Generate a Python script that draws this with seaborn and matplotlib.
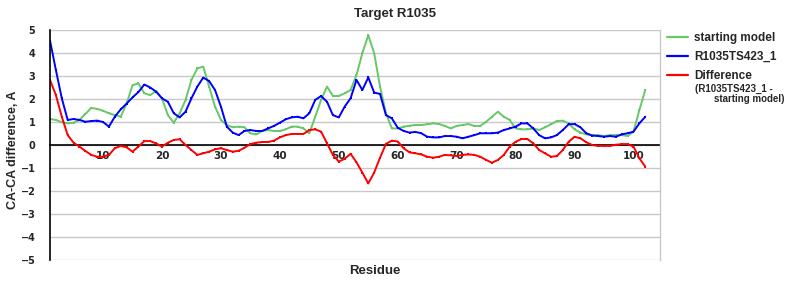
import numpy as np
import pandas as pd
import matplotlib
matplotlib.use("Agg")
import matplotlib.pyplot as plt
import seaborn as sns
from matplotlib.lines import Line2D

residues = list(range(1, 103))

starting_model = [
    1.13, 1.09, 0.99, 0.94, 0.97, 1.09, 1.35, 1.61, 1.57, 1.49,
    1.38, 1.30, 1.23, 1.80, 2.60, 2.68, 2.25, 2.17, 2.35, 2.03,
    1.30, 0.97, 1.38, 1.96, 2.83, 3.33, 3.41, 2.54, 1.67, 1.09,
    0.87, 0.77, 0.80, 0.77, 0.51, 0.46, 0.61, 0.65, 0.61, 0.61,
    0.68, 0.80, 0.80, 0.72, 0.51, 1.23, 1.96, 2.54, 2.13, 2.13,
    2.25, 2.39, 3.04, 3.99, 4.78, 3.99, 2.54, 1.38, 0.72, 0.72,
    0.80, 0.84, 0.87, 0.87, 0.90, 0.94, 0.91, 0.83, 0.72, 0.83,
    0.87, 0.91, 0.83, 0.83, 1.01, 1.23, 1.45, 1.23, 1.09, 0.72,
    0.68, 0.68, 0.72, 0.65, 0.77, 0.90, 1.04, 1.06, 0.94, 0.68,
    0.54, 0.46, 0.43, 0.43, 0.39, 0.43, 0.43, 0.43, 0.39, 0.58,
    1.52, 2.39,
]

model_ts423 = [
    4.54, 3.26, 2.03, 1.09, 1.13, 1.09, 1.01, 1.04, 1.06, 1.00,
    0.80, 1.23, 1.55, 1.80, 2.07, 2.30, 2.63, 2.50, 2.32, 2.03,
    1.88, 1.38, 1.20, 1.45, 2.03, 2.54, 2.93, 2.78, 2.39, 1.67,
    0.80, 0.54, 0.43, 0.61, 0.65, 0.61, 0.61, 0.72, 0.83, 0.97,
    1.12, 1.20, 1.23, 1.16, 1.38, 1.96, 2.13, 1.88, 1.30, 1.20,
    1.67, 2.03, 2.83, 2.39, 2.94, 2.28, 2.22, 1.30, 1.16, 0.75,
    0.61, 0.54, 0.57, 0.51, 0.36, 0.33, 0.33, 0.39, 0.39, 0.36,
    0.29, 0.36, 0.43, 0.51, 0.51, 0.51, 0.54, 0.65, 0.72, 0.80,
    0.94, 0.94, 0.72, 0.43, 0.29, 0.33, 0.43, 0.65, 0.90, 0.91,
    0.77, 0.51, 0.41, 0.39, 0.36, 0.39, 0.36, 0.46, 0.51, 0.58,
    0.94, 1.23,
]

difference = [
    2.83, 2.17, 1.23, 0.43, 0.10, -0.07, -0.26, -0.43, -0.51, -0.51,
    -0.43, -0.14, -0.04, -0.10, -0.29, -0.07, 0.17, 0.17, 0.07, -0.07,
    0.10, 0.22, 0.25, 0.00, -0.22, -0.43, -0.36, -0.29, -0.19, -0.14,
    -0.22, -0.29, -0.25, -0.12, 0.04, 0.10, 0.13, 0.13, 0.19, 0.33,
    0.43, 0.48, 0.48, 0.48, 0.65, 0.68, 0.58, 0.07, -0.43, -0.72,
    -0.60, -0.38, -0.75, -1.20, -1.67, -1.20, -0.55, 0.05, 0.19, 0.15,
    -0.14, -0.32, -0.36, -0.41, -0.51, -0.55, -0.51, -0.43, -0.45, -0.48,
    -0.43, -0.41, -0.43, -0.51, -0.65, -0.77, -0.65, -0.43, -0.07, 0.14,
    0.26, 0.26, 0.07, -0.22, -0.36, -0.51, -0.48, -0.22, 0.14, 0.36,
    0.29, 0.12, 0.00, -0.04, -0.04, -0.04, 0.01, 0.04, 0.04, -0.07,
    -0.58, -0.94,
]

series_names = ["starting model", "R1035TS423_1", "Difference"]
x_ticks = [10, 20, 30, 40, 50, 60, 70, 80, 90, 100]
y_ticks = [-5, -4, -3, -2, -1, 0, 1, 2, 3, 4, 5]
y_tick_labels = ["\u22125", "\u22124", "\u22123", "\u22122", "\u22121", "0", "1", "2", "3", "4", "5"]

df = pd.DataFrame({
    "Residue": residues * 3,
    "value": starting_model + model_ts423 + difference,
    "series": [series_names[0]] * len(residues) + [series_names[1]] * len(residues)
              + [series_names[2]] * len(residues),
})

sns.set_theme(style="white")
plt.rcParams["font.family"] = ["DejaVu Sans"]

colors = {"starting model": "#66C866", "R1035TS423_1": "#0000FF", "Difference": "#FF0000"}

fig = plt.figure(figsize=(8, 3), dpi=100)
ax = fig.add_axes([0.0625, 0.1333, 0.7625, 0.7667])

sns.lineplot(data=df, x="Residue", y="value", hue="series", palette=colors,
             hue_order=series_names, ax=ax, linewidth=1.4, marker="s",
             markersize=1.6, markeredgewidth=0, legend=False)

ax.set_xlim(1, 104.5)
ax.set_ylim(-5, 5)
ax.set_yticks(y_ticks)
ax.set_xticks(x_ticks)
ax.yaxis.grid(True, color="#C8C8C8", linewidth=1.0)
ax.xaxis.grid(False)
ax.set_axisbelow(True)

ax.spines["top"].set_visible(False)
ax.spines["right"].set_color("#C8C8C8")
ax.spines["right"].set_linewidth(1.0)
ax.spines["left"].set_color("black")
ax.spines["left"].set_linewidth(1.2)
ax.spines["bottom"].set_position(("data", 0))
ax.spines["bottom"].set_color("black")
ax.spines["bottom"].set_linewidth(1.2)
ax.spines["bottom"].set_zorder(1)

ax.set_xlabel("")
ax.set_ylabel("")
ax.tick_params(axis="x", length=4, width=1, color="#C8C8C8", direction="inout", pad=2.5)
ax.tick_params(axis="y", length=0, pad=10.5)
ax.set_xticklabels([str(t) for t in x_ticks], fontweight="bold", fontsize=7.5)
ax.set_yticklabels(y_tick_labels, fontweight="bold", fontsize=7)

fig.text(0.494, 0.953, "Target R1035", ha="center", va="center",
         fontsize=9.5, fontweight="bold", family="Liberation Sans")
fig.text(0.469, 0.097, "Residue", ha="center", va="center",
         fontsize=9.5, fontweight="bold", family="Liberation Sans")
fig.text(0.016, 0.5, "CA-CA difference, A", ha="center", va="center", rotation=90,
         fontsize=9, fontweight="bold", family="Liberation Sans")

handles = [Line2D([0], [0], color=colors[n], linewidth=1.6, marker="s", markersize=1.6,
                  markeredgewidth=0) for n in series_names]
leg = fig.legend(handles, series_names, loc="upper left", bbox_to_anchor=(0.822, 0.925),
                 frameon=False, handlelength=1.8, handletextpad=0.5, labelspacing=0.6,
                 borderpad=0.3,
                 prop={"family": "Liberation Sans", "weight": "bold", "size": 8.5})
fig.text(0.869, 0.705, "(R1035TS423_1 -", ha="left", va="center",
         fontsize=7, fontweight="bold", family="Liberation Sans")
fig.text(0.893, 0.67, "starting model)", ha="left", va="center",
         fontsize=7, fontweight="bold", family="Liberation Sans")

fig.savefig("out.png", dpi=100)
